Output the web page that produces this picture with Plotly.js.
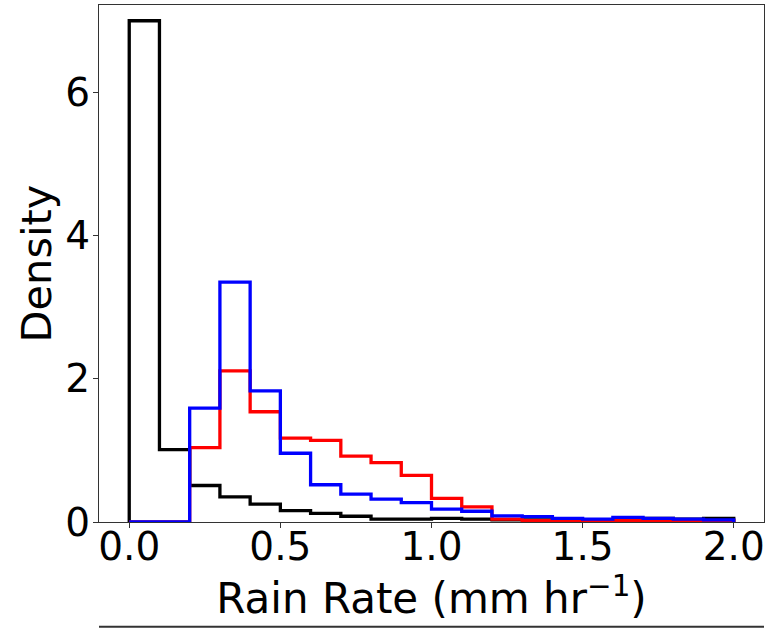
<!DOCTYPE html>
<html>
<head>
<meta charset="utf-8">
<script src="https://cdn.plot.ly/plotly-3.0.1.min.js"></script>
<style>
  html, body { margin: 0; padding: 0; background: #fff; }
  #chart { width: 771px; height: 628px; }
</style>
</head>
<body>
<div id="chart"></div>
<script>
// Bin edges (mm hr^-1)
const binEdges = [0.0, 0.1, 0.2, 0.3, 0.4, 0.5, 0.6, 0.7, 0.8, 0.9, 1.0,
                  1.1, 1.2, 1.3, 1.4, 1.5, 1.6, 1.7, 1.8, 1.9, 2.0];

// Density per bin
const blackDensity = [7.00, 1.01, 0.51, 0.35, 0.25, 0.16, 0.12, 0.08, 0.04, 0.04,
                      0.05, 0.04, 0.03, 0.03, 0.02, 0.02, 0.03, 0.05, 0.04, 0.05];
const redDensity   = [0.00, 0.00, 1.04, 2.11, 1.54, 1.17, 1.14, 0.92, 0.83, 0.65,
                      0.33, 0.21, 0.04, 0.02, 0.02, 0.02, 0.02, 0.02, 0.02, 0.02];
const blueDensity  = [0.00, 0.00, 1.59, 3.35, 1.83, 0.96, 0.52, 0.39, 0.32, 0.27,
                      0.18, 0.15, 0.085, 0.075, 0.05, 0.04, 0.065, 0.05, 0.04, 0.03];

const xTickVals = [0.0, 0.5, 1.0, 1.5, 2.0];
const yTickVals = [0, 2, 4, 6];

// Build a matplotlib-style "step" histogram outline
function stepOutline(edges, vals) {
  const xs = [edges[0]];
  const ys = [0];
  for (let i = 0; i < vals.length; i++) {
    xs.push(edges[i]);
    ys.push(vals[i]);
  }
  xs.push(edges[edges.length - 1]);
  ys.push(vals[vals.length - 1]);
  xs.push(edges[edges.length - 1]);
  ys.push(0);
  return {xs, ys};
}

function trace(vals, color) {
  const s = stepOutline(binEdges, vals);
  return {
    type: 'scatter', mode: 'lines', x: s.xs, y: s.ys,
    line: {shape: 'hv', color: color, width: 3.3},
    cliponaxis: false, showlegend: false, hoverinfo: 'skip'
  };
}

const data = [
  trace(blackDensity, '#000000'),
  trace(redDensity, '#ff0000'),
  trace(blueDensity, '#0000ff')
];

const fontFam = 'DejaVu Sans, sans-serif';

const layout = {
  width: 771, height: 628,
  margin: {l: 99, r: 7, t: 5, b: 106, pad: 0},
  paper_bgcolor: '#ffffff', plot_bgcolor: '#ffffff',
  font: {family: fontFam, color: '#000000', size: 39},
  showlegend: false,
  xaxis: {
    range: [-0.1, 2.1],
    tickvals: xTickVals, tickformat: '.1f',
    ticks: 'outside', ticklen: 5, tickwidth: 1, tickcolor: '#333',
    ticklabelstandoff: -15,
    showline: true, linecolor: '#333', linewidth: 1, mirror: true,
    showgrid: false, zeroline: false,
    tickfont: {family: fontFam, size: 39, color: '#000'},
    title: {text: 'Rain Rate (mm hr<sup>\u22121</sup>)', font: {family: fontFam, size: 42, color: '#000'}, standoff: 12}
  },
  yaxis: {
    range: [0, 7.22],
    tickvals: yTickVals,
    ticks: 'outside', ticklen: 5, tickwidth: 1, tickcolor: '#333',
    ticklabelstandoff: -5,
    showline: true, linecolor: '#333', linewidth: 1, mirror: true,
    showgrid: false, zeroline: false,
    tickfont: {family: fontFam, size: 39, color: '#000'},
    title: {text: 'Density', font: {family: fontFam, size: 41.5, color: '#000'}, standoff: 0}
  },
  shapes: [{
    type: 'line', xref: 'paper', yref: 'paper',
    x0: 0, x1: 1, y0: -0.2025, y1: -0.2025,
    line: {color: '#333', width: 2}
  }]
};

Plotly.newPlot('chart', data, layout, {staticPlot: true, displayModeBar: false});
</script>
</body>
</html>
